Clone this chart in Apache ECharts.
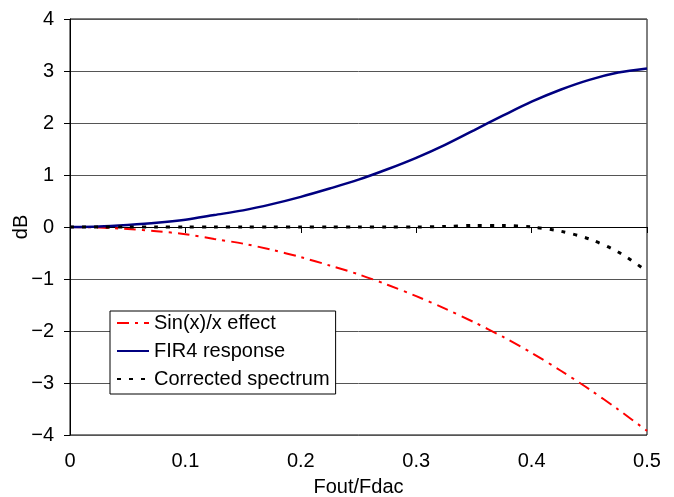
<!DOCTYPE html>
<html>
<head>
<meta charset="utf-8">
<script src="https://cdn.jsdelivr.net/npm/echarts@6/dist/echarts.min.js"></script>
<style>
  html, body { margin: 0; padding: 0; background: #fff; }
  #chart { width: 674px; height: 497px; }
</style>
</head>
<body>
<div id="chart"></div>
<script>
// Fout/Fdac
var freq = [0, 0.025, 0.05, 0.075, 0.1, 0.125, 0.15, 0.175, 0.2, 0.225, 0.25,
  0.275, 0.3, 0.325, 0.35, 0.375, 0.4, 0.425, 0.45, 0.475, 0.5];
// dB values
var sincEffect = [0, -0.01, -0.04, -0.08, -0.14, -0.23, -0.32, -0.44, -0.58, -0.74, -0.91,
  -1.11, -1.33, -1.57, -1.83, -2.11, -2.42, -2.76, -3.12, -3.51, -3.92];
var fir4 = [0, 0.01, 0.04, 0.08, 0.14, 0.23, 0.32, 0.44, 0.58, 0.74, 0.91,
  1.11, 1.33, 1.58, 1.86, 2.14, 2.41, 2.64, 2.83, 2.97, 3.05];
var corrected = [0, 0, 0, 0, 0, 0, 0, 0, 0, 0, 0,
  0, 0, 0.01, 0.03, 0.03, 0.0, -0.08, -0.23, -0.48, -0.85];
var seriesNames = ['Sin(x)/x effect', 'FIR4 response', 'Corrected spectrum'];

function pairs(ys) {
  return freq.map(function (x, i) { return [x, ys[i]]; });
}

var chart = echarts.init(document.getElementById('chart'));
var font = 'Liberation Sans, Arial, sans-serif';

var option = {
  backgroundColor: '#fff',
  animation: false,
  textStyle: { fontFamily: font },
  grid: {
    left: 70, right: 27, top: 19, bottom: 62,
    containLabel: false, outerBoundsMode: 'none',
    show: true, borderColor: '#000', borderWidth: 1
  },
  legend: {
    orient: 'vertical',
    left: 110, top: 311,
    data: seriesNames,
    backgroundColor: '#fff',
    borderColor: '#000', borderWidth: 1,
    padding: [2, 6, 5, 6],
    itemGap: 8,
    itemWidth: 32, itemHeight: 14,
    itemStyle: { opacity: 0 },
    textStyle: { fontSize: 20, color: '#000', fontFamily: font }
  },
  xAxis: {
    type: 'value', min: 0, max: 0.5, interval: 0.1,
    name: 'Fout/Fdac', nameLocation: 'middle', nameGap: 42,
    nameMoveOverlap: false,
    nameTextStyle: { fontSize: 20, color: '#000', fontFamily: font },
    axisLine: { lineStyle: { color: '#000', width: 1 } },
    axisTick: { show: true, length: 6, lineStyle: { color: '#000' } },
    axisLabel: { fontSize: 20, color: '#000', margin: 16, fontFamily: font },
    splitLine: { show: false }
  },
  yAxis: {
    type: 'value', min: -4, max: 4, interval: 1,
    name: 'dB', nameLocation: 'middle', nameGap: 39,
    nameMoveOverlap: false,
    nameTextStyle: { fontSize: 20, color: '#000', fontFamily: font },
    axisLine: { show: true, onZero: false, lineStyle: { color: '#000', width: 1 } },
    axisTick: { show: true, length: 6, lineStyle: { color: '#000' } },
    axisLabel: {
      fontSize: 20, color: '#000', margin: 16, fontFamily: font,
      formatter: function (v) { return v < 0 ? '\u2212' + Math.abs(v) : String(v); }
    },
    splitLine: { show: true, lineStyle: { color: '#555', width: 1 } }
  },
  series: [
    {
      name: seriesNames[0], type: 'line', data: pairs(sincEffect),
      smooth: 0.3, symbol: 'none',
      lineStyle: { color: '#ff0000', width: 2, type: [12, 6, 3, 6] },
      itemStyle: { color: '#ff0000' }
    },
    {
      name: seriesNames[1], type: 'line', data: pairs(fir4),
      smooth: 0.3, symbol: 'none',
      lineStyle: { color: '#000080', width: 2.5, type: 'solid' },
      itemStyle: { color: '#000080' }
    },
    {
      name: seriesNames[2], type: 'line', data: pairs(corrected),
      smooth: 0.3, symbol: 'none',
      lineStyle: { color: '#000', width: 3, type: [4, 8] },
      itemStyle: { color: '#000' }
    }
  ]
};

chart.setOption(option);
</script>
</body>
</html>
